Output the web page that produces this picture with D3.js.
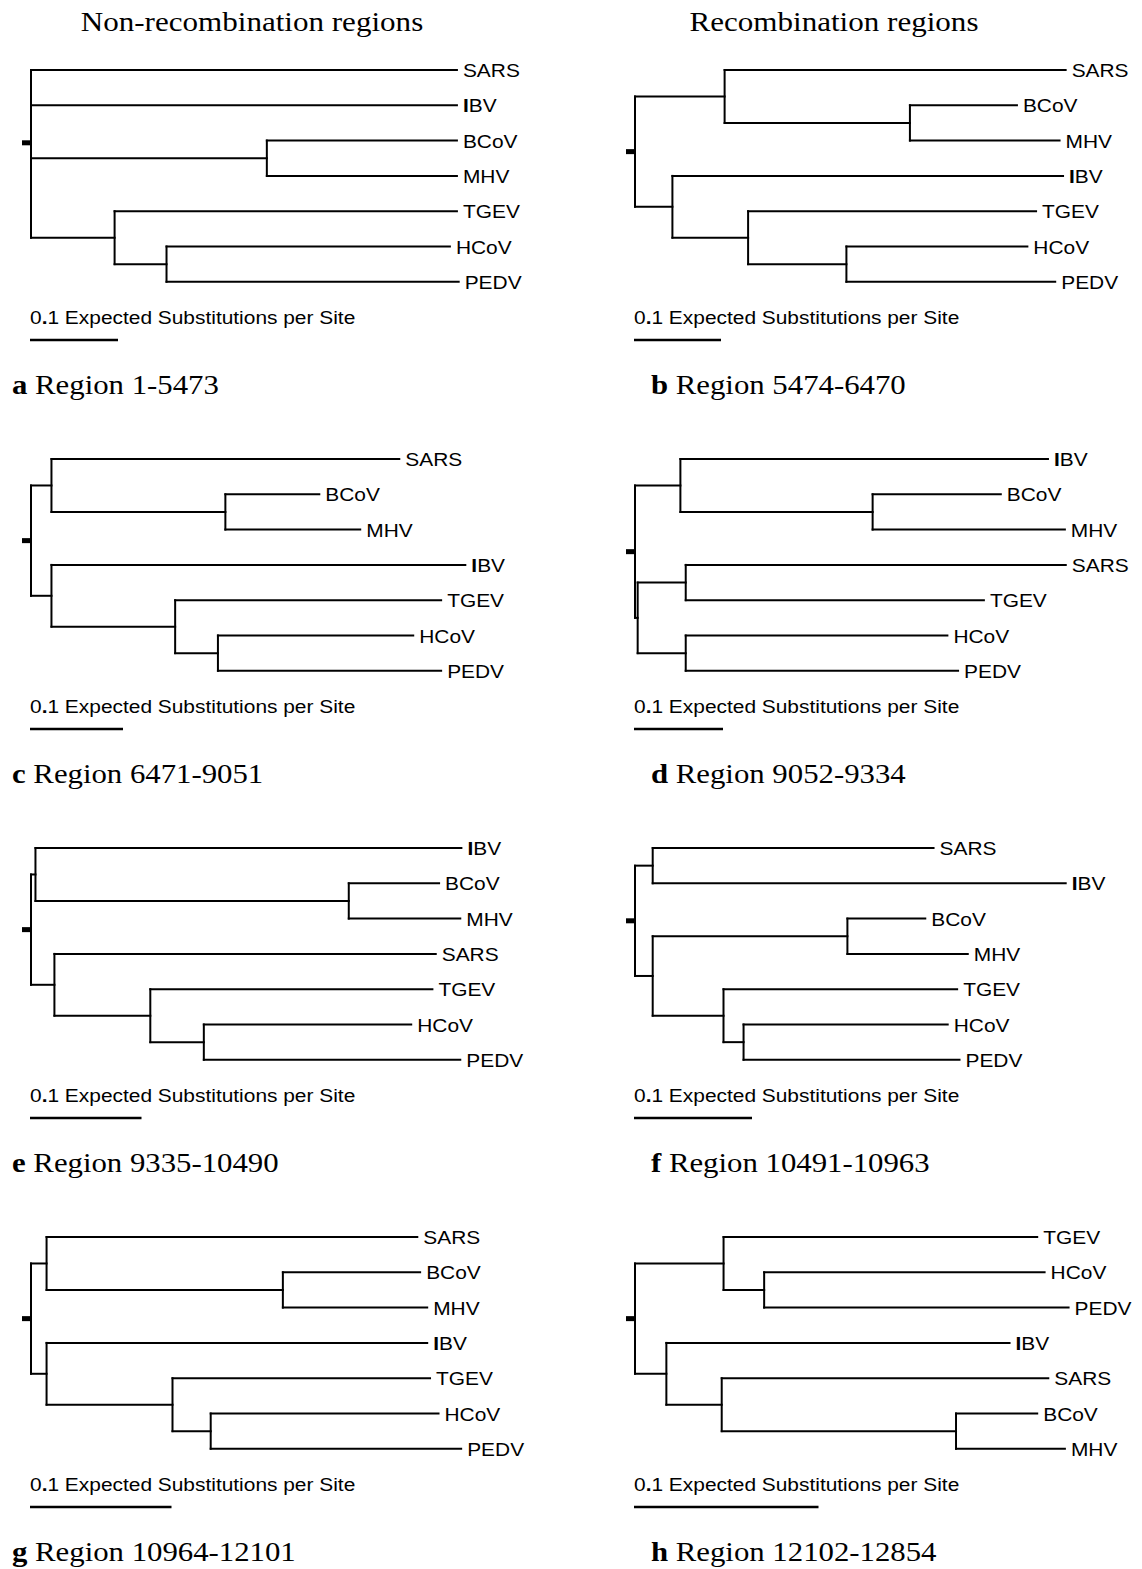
<!DOCTYPE html>
<html><head><meta charset="utf-8">
<script src="https://cdn.jsdelivr.net/npm/d3@7"></script>
<style>body{margin:0;background:#fff}svg{display:block}</style>
</head><body><script>
// ---------- data ----------
const columnTitles = ["Non-recombination regions", "Recombination regions"];
const panelLetters = ["a", "b", "c", "d", "e", "f", "g", "h"];
const regionLabels = ["Region 1-5473", "Region 5474-6470", "Region 6471-9051", "Region 9052-9334",
  "Region 9335-10490", "Region 10491-10963", "Region 10964-12101", "Region 12102-12854"];
// branch lengths in expected substitutions per site
const treeNewick = [
  "(SARS:0.484,IBV:0.484,(BCoV:0.216,MHV:0.216):0.268,(TGEV:0.389,(HCoV:0.322,PEDV:0.332):0.059):0.095);",
  "((SARS:0.392,(BCoV:0.123,MHV:0.172):0.213):0.103,(IBV:0.449,(TGEV:0.331,(HCoV:0.208,PEDV:0.240):0.113):0.087):0.043);",
  "((SARS:0.374,(BCoV:0.101,MHV:0.145):0.187):0.022,(IBV:0.445,(TGEV:0.286,(HCoV:0.210,PEDV:0.240):0.046):0.133):0.022);",
  "((IBV:0.413,(BCoV:0.144,MHV:0.216):0.216):0.051,((SARS:0.427,TGEV:0.335):0.054,(HCoV:0.294,PEDV:0.306):0.054):0.003);",
  "((IBV:0.382,(BCoV:0.081,MHV:0.100):0.281):0.004,(SARS:0.342,(TGEV:0.253,(HCoV:0.186,PEDV:0.230):0.048):0.086):0.021);",
  "((SARS:0.238,IBV:0.350):0.015,((BCoV:0.066,MHV:0.102):0.165,(TGEV:0.198,(HCoV:0.173,PEDV:0.183):0.017):0.060):0.015);",
  "((SARS:0.262,(BCoV:0.097,MHV:0.102):0.167):0.011,(IBV:0.269,(TGEV:0.182,(HCoV:0.161,PEDV:0.177):0.027):0.089):0.011);",
  "((TGEV:0.170,(HCoV:0.152,PEDV:0.165):0.022):0.048,(IBV:0.186,(SARS:0.177,(BCoV:0.044,MHV:0.059):0.127):0.030):0.017);"
];
const scaleBarValue = 0.1;
const scaleBarLabel = ["0", ".", "1 Expected Substitutions per Site"];

// ---------- layout ----------
const W = 1142, H = 1569;
const colRootX = [31, 635];
const colLabelX = [12, 651];
const titleX = [252, 834];
const rowTopY = [70, 459, 848, 1237];
const leafStep = 35.3;
const pxPerUnit = [880, 870, 930, 890, 1115, 1180, 1415, 1845];
const sansFont = "'Liberation Sans', Arial, Helvetica, sans-serif";
const serifFont = "'Liberation Serif', 'Times New Roman', Times, serif";
const sx = 1.1;

function parseNewick(s) {
  let i = 0;
  function node() {
    const n = {};
    if (s[i] === "(") {
      i++;
      n.children = [node()];
      while (s[i] === ",") { i++; n.children.push(node()); }
      i++; // ')'
    }
    let name = "";
    while (i < s.length && !":,();".includes(s[i])) name += s[i++];
    n.name = name;
    n.length = 0;
    if (s[i] === ":") {
      i++;
      let num = "";
      while (i < s.length && !",();".includes(s[i])) num += s[i++];
      n.length = +num;
    }
    return n;
  }
  return node();
}

const svg = d3.select("body").append("svg").attr("width", W).attr("height", H)
  .style("background", "#fff");

// column titles
columnTitles.forEach((t, c) => {
  svg.append("text")
    .attr("transform", `translate(${titleX[c]},31) scale(1.13,1)`)
    .attr("text-anchor", "middle")
    .style("font-family", serifFont).style("font-size", "27.5px").attr("fill", "#000")
    .text(t);
});

treeNewick.forEach((nw, p) => {
  const col = p % 2, row = Math.floor(p / 2);
  const rootX = colRootX[col], top = rowTopY[row];
  const root = d3.hierarchy(parseNewick(nw));
  root.eachBefore(d => { d.dist = d.parent ? d.parent.dist + d.data.length : 0; });
  const leaves = root.leaves();
  const maxDist = d3.max(leaves, d => d.dist);
  const x = d3.scaleLinear().domain([0, maxDist]).range([rootX, rootX + maxDist * pxPerUnit[p]]);
  const y = d3.scaleLinear().domain([0, leaves.length - 1]).range([top, top + (leaves.length - 1) * leafStep]);
  leaves.forEach((d, i) => { d.y = y(i); });
  root.eachAfter(d => { if (d.children) d.y = d3.mean(d.children, c => c.y); });

  const g = svg.append("g");
  const lineStyle = sel => sel.attr("stroke", "#000").attr("stroke-width", 2).attr("stroke-linecap", "square");

  // horizontal branches
  g.selectAll("line.h").data(root.descendants().filter(d => d.parent)).join("line")
    .attr("class", "h")
    .attr("x1", d => x(d.parent.dist)).attr("x2", d => x(d.dist))
    .attr("y1", d => d.y).attr("y2", d => d.y)
    .call(lineStyle);
  // vertical connectors
  g.selectAll("line.v").data(root.descendants().filter(d => d.children)).join("line")
    .attr("class", "v")
    .attr("x1", d => x(d.dist)).attr("x2", d => x(d.dist))
    .attr("y1", d => d.children[0].y).attr("y2", d => d.children[d.children.length - 1].y)
    .call(lineStyle);
  // root stub
  g.append("rect").attr("x", x(0) - 9).attr("y", root.y - 2.5).attr("width", 9).attr("height", 5).attr("fill", "#000");

  // leaf labels
  leaves.forEach(d => {
    const t = g.append("text")
      .attr("transform", `translate(${x(d.dist) + 6},${d.y + 7}) scale(${sx},1)`)
      .style("font-family", sansFont).style("font-size", "19px").attr("fill", "#000");
    if (d.data.name === "IBV") {
      t.append("tspan").style("font-weight", "bold").text("I");
      t.append("tspan").text("BV");
    } else t.text(d.data.name);
  });

  // scale bar
  const sbX = x(0) - 1;
  const st = g.append("text")
    .attr("transform", `translate(${sbX},${top + 254}) scale(${sx},1)`)
    .style("font-family", sansFont).style("font-size", "19px").attr("fill", "#000");
  scaleBarLabel.forEach((s, k) => st.append("tspan").style("font-weight", k === 1 ? "bold" : "normal").text(s));
  g.append("line")
    .attr("x1", sbX).attr("x2", sbX + (x(scaleBarValue) - x(0)))
    .attr("y1", top + 270).attr("y2", top + 270)
    .attr("stroke", "#000").attr("stroke-width", 2.5);

  // panel label
  const pl = g.append("text")
    .attr("transform", `translate(${colLabelX[col]},${top + 324}) scale(1.14,1)`)
    .style("font-family", serifFont).style("font-size", "27px").attr("fill", "#000");
  pl.append("tspan").style("font-weight", "bold").text(panelLetters[p]);
  pl.append("tspan").text(" " + regionLabels[p]);
});
</script></body></html>
